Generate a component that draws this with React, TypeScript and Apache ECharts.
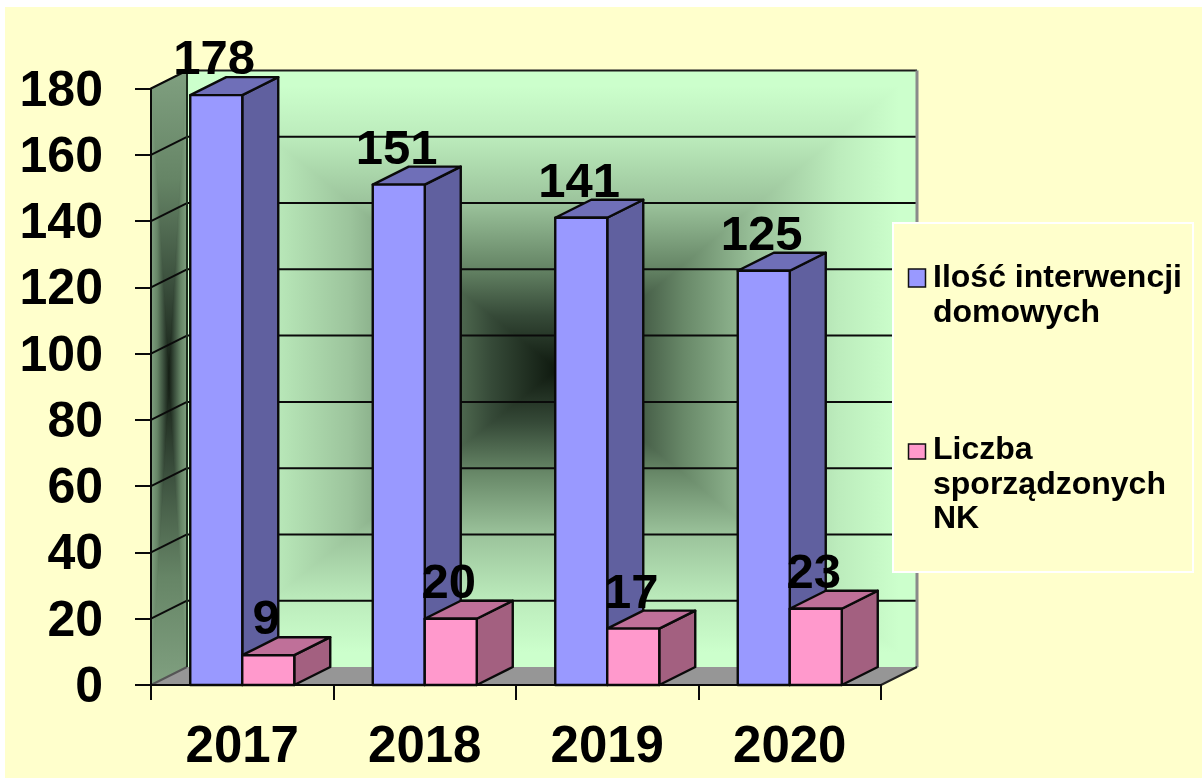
import React, { useEffect, useRef } from "react";
import * as echarts from "echarts";

const categories = ["2017", "2018", "2019", "2020"];
const interventions = [178, 151, 141, 125];
const reports = [9, 20, 17, 23];
const yTicks = [0, 20, 40, 60, 80, 100, 120, 140, 160, 180];
const seriesNames = ["Ilość interwencji\ndomowych", "Liczba\nsporządzonych\nNK"];

const FONT = '"Liberation Sans", Arial, sans-serif';
const DX = 36;
const DY = -18;
const BAR_W = 52;
const LINE = "#0a0a0a";

const grad = (x: number, y: number, x2: number, y2: number, stops: [number, string][]) => ({
  type: "linear",
  x,
  y,
  x2,
  y2,
  colorStops: stops.map(([offset, color]) => ({ offset, color })),
});

const backStops: [number, string][] = [
  [0, "#0e180e"],
  [0.18, "#364a38"],
  [0.35, "#688868"],
  [0.56, "#9cc49c"],
  [0.78, "#bcecbc"],
  [0.95, "#ccffcc"],
  [1, "#ccffcc"],
];
const sideStops: [number, string][] = [
  [0, "#141e14"],
  [0.3, "#3a4e3c"],
  [0.65, "#668566"],
  [1, "#80a080"],
];

const poly = (points: number[][], fill: any, extra: any = {}) => ({
  type: "polygon",
  shape: { points },
  style: { fill, ...extra },
});

const wedge = (points: number[][], fill: any) => poly(points, fill, { stroke: fill, lineWidth: 1.2 });

const seg = (a: number[], b: number[], stroke = LINE, lineWidth = 2) => ({
  type: "line",
  shape: { x1: a[0], y1: a[1], x2: b[0], y2: b[1] },
  style: { stroke, lineWidth },
});

function renderFrame(params: any, api: any) {
  const cs = params.coordSys;
  const x0 = cs.x;
  const x1 = cs.x + cs.width;
  const yTop = api.coord([0, yTicks[yTicks.length - 1]])[1];
  const yBot = api.coord([0, 0])[1];
  const bl = [x0 + DX, yBot + DY];
  const br = [x1 + DX, yBot + DY];
  const tl = [x0 + DX, yTop + DY];
  const tr = [x1 + DX, yTop + DY];
  const c = [x0 + DX + (x1 - x0) * 0.5076, (yTop + yBot) / 2 + DY + 0.5];
  const children: any[] = [
    wedge([tl, tr, c], grad(0, 1, 0, 0, backStops)),
    wedge([bl, br, c], grad(0, 0, 0, 1, backStops)),
    wedge([tl, bl, c], grad(1, 0, 0, 0, backStops)),
    wedge([tr, br, c], grad(0, 0, 1, 0, backStops)),
  ];
  // side wall
  const sA = [x0, yTop];
  const sB = [x0, yBot];
  const sC = [x0 + DX / 2, (yTop + yBot) / 2 + DY / 2];
  children.push(
    wedge([sA, tl, sC], grad(0, 1, 0, 0, sideStops)),
    wedge([sB, bl, sC], grad(0, 0, 0, 1, sideStops)),
    wedge([sA, sB, sC], grad(1, 0, 0, 0, sideStops)),
    wedge([tl, bl, sC], grad(0, 0, 1, 0, sideStops)),
  );
  // floor
  children.push(poly([[x0, yBot], bl, br, [x1, yBot]], "#969696"));
  // grid lines on the walls
  yTicks.forEach((v) => {
    const y = api.coord([0, v])[1];
    if (v > 0) {
      children.push(seg([x0 + DX, y + DY], [x1 + DX, y + DY], v === 180 ? "#1c1c1c" : LINE));
    }
    children.push(seg([x0, y], [x0 + DX, y + DY], v === 0 ? "#555555" : LINE));
  });
  children.push(
    seg(tl, bl, "#1c2a1c", 2),
    seg(tr, br, "#8a8a8a", 3),
    seg([x1, yBot], br, "#222222", 2),
  );
  return { type: "group", children };
}

function makeBar(side: number, front: string, top: string, right: string) {
  return (params: any, api: any) => {
    const value = api.value(1);
    const center = api.coord([api.value(0), 0])[0];
    const yBot = api.coord([0, 0])[1];
    const y = api.coord([0, value])[1];
    const x0 = side < 0 ? center - BAR_W : center;
    const x1 = x0 + BAR_W;
    const border = { stroke: LINE, lineWidth: 2.4, lineJoin: "round" };
    return {
      type: "group",
      children: [
        poly([[x1, y], [x1 + DX, y + DY], [x1 + DX, yBot + DY], [x1, yBot]], right, border),
        poly([[x0, y], [x0 + DX, y + DY], [x1 + DX, y + DY], [x1, y]], top, border),
        poly([[x0, y], [x1, y], [x1, yBot], [x0, yBot]], front, border),
        {
          type: "text",
          z2: 50,
          style: {
            text: String(value),
            x: (x0 + x1) / 2 - 2,
            y: y - 38,
            align: "center",
            verticalAlign: "middle",
            font: `bold 49px ${FONT}`,
            fill: "#000000",
          },
        },
      ],
    };
  };
}

const legendEntry = (x: number, y: number, h: number, fill: string, name: string, textTop: number) => [
  {
    type: "rect",
    shape: { x, y, width: 17, height: h },
    style: { fill, stroke: "#111111", lineWidth: 1.5 },
  },
  {
    type: "text",
    style: {
      text: name,
      x: 933,
      y: textTop,
      font: `bold 32px ${FONT}`,
      lineHeight: 34.5,
      fill: "#000000",
      align: "left",
      verticalAlign: "top",
    },
  },
];

export default function App() {
  const ref = useRef<HTMLDivElement>(null);
  useEffect(() => {
    document.body.style.margin = "0";
    document.body.style.background = "#ffffff";
    const chart = echarts.init(ref.current!, undefined, { renderer: "svg" });
    chart.setOption({
      animation: false,
      backgroundColor: "#ffffff",
      grid: { left: 151, right: 321, top: 88.5, bottom: 93, containLabel: false },
      xAxis: {
        type: "category",
        data: categories,
        boundaryGap: true,
        axisLine: { show: true, onZero: false, lineStyle: { color: LINE, width: 2 } },
        axisTick: { show: true, length: 15, inside: false, alignWithLabel: false, lineStyle: { color: LINE, width: 2 } },
        axisLabel: { margin: 34, color: "#000", fontFamily: FONT, fontWeight: "bold", fontSize: 51 },
        splitLine: { show: false },
        z: 6,
      },
      yAxis: {
        type: "value",
        min: 0,
        max: 180,
        interval: 20,
        axisLine: { show: true, lineStyle: { color: LINE, width: 2 } },
        axisTick: { show: true, length: 16, lineStyle: { color: LINE, width: 2 } },
        axisLabel: { margin: 48, color: "#000", fontFamily: FONT, fontWeight: "bold", fontSize: 50 },
        splitLine: { show: false },
        z: 6,
      },
      graphic: [
        {
          type: "rect",
          z: -100,
          silent: true,
          shape: { x: 5, y: 7, width: 1197, height: 771 },
          style: { fill: "#ffffcc" },
        },
        {
          type: "group",
          z: 100,
          children: [
            {
              type: "rect",
              z: 100,
              shape: { x: 893, y: 223, width: 300, height: 349 },
              style: { fill: "#ffffcc", stroke: "#ffffff", lineWidth: 2 },
            },
            ...legendEntry(908.5, 269, 18, "#9999ff", seriesNames[0], 259).map((e) => ({ ...e, z: 101 })),
            ...legendEntry(908.5, 444, 15, "#ff99cc", seriesNames[1], 431).map((e) => ({ ...e, z: 101 })),
          ],
        },
      ],
      series: [
        { type: "custom", name: "frame", z: 1, silent: true, clip: false, renderItem: renderFrame, data: [[0, 0]] },
        {
          type: "custom",
          name: "Ilość interwencji domowych",
          z: 3,
          clip: false,
          renderItem: makeBar(-1, "#9999ff", "#6f6fb8", "#60609f"),
          data: interventions.map((v, i) => [i, v]),
        },
        {
          type: "custom",
          name: "Liczba sporządzonych NK",
          z: 4,
          clip: false,
          renderItem: makeBar(1, "#ff99cc", "#bf7099", "#a36080"),
          data: reports.map((v, i) => [i, v]),
        },
      ],
    });
    return () => chart.dispose();
  }, []);
  return (
    <div
      ref={ref}
      style={{ position: "absolute", left: 0, top: 0, width: 1202, height: 778, filter: "blur(0.5px)" }}
    />
  );
}
